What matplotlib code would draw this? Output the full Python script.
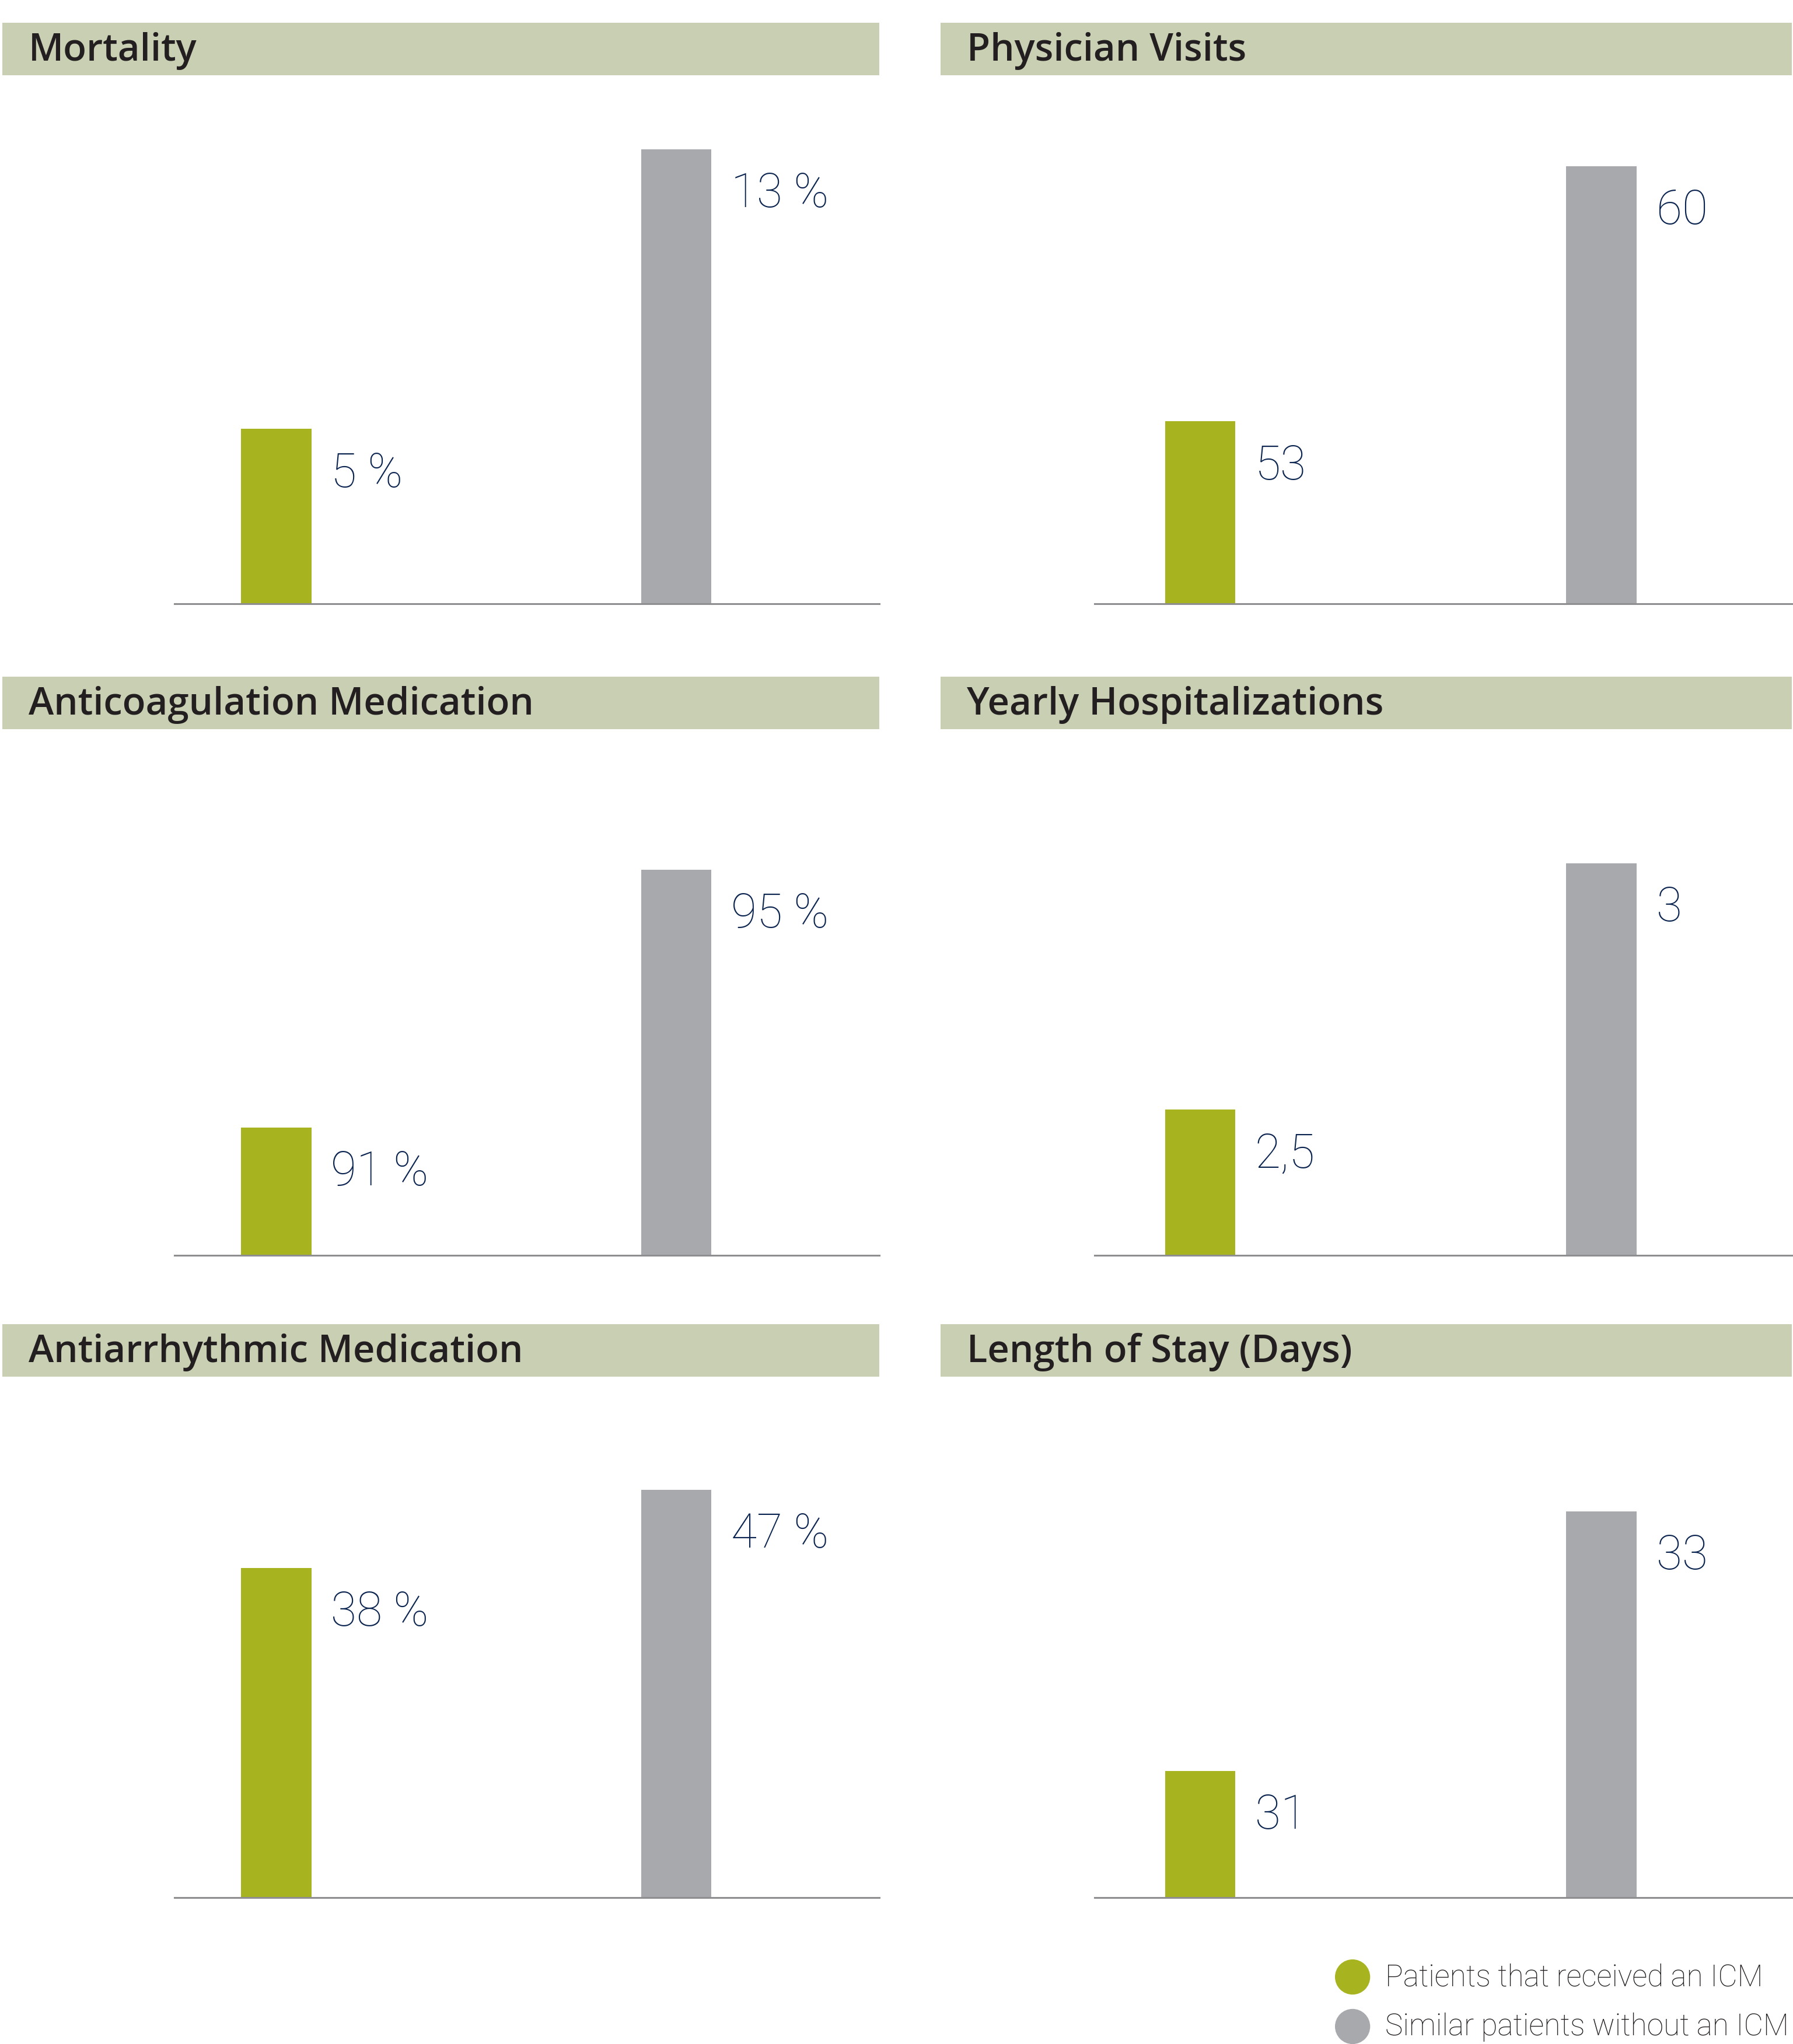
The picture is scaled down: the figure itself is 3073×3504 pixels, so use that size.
import matplotlib
matplotlib.use("Agg")
import matplotlib.pyplot as plt
from matplotlib.patches import Rectangle, Ellipse

# data
titles = ["Mortality", "Physician Visits",
          "Anticoagulation Medication", "Yearly Hospitalizations",
          "Antiarrhythmic Medication", "Length of Stay (Days)"]
icm_values = [5, 53, 91, 2.5, 38, 31]
control_values = [13, 60, 95, 3, 47, 33]
icm_labels = ["5 %", "53", "91 %", "2,5", "38 %", "31"]
control_labels = ["13 %", "60", "95 %", "3", "47 %", "33"]
legend_labels = ["Patients that received an ICM", "Similar patients without an ICM"]

# the original chart uses a cut axis in most panels
y_bottom = [0, 48, 89.02, 2.204, 0, 30.025]
y_top = [14.3, 61.71, 96.78, 3.22, 57.66, 33.88]

GREEN = "#a8b41f"
GREY = "#a8a9ad"
HEADER = "#c8cfb2"
NAVY = "#0c2550"
DARK = "#231f20"

W, H = 3073, 3505
S = W / 1376.0  # reference was measured on a 1376 px wide preview
fig = plt.figure(figsize=(W / 100, H / 100), dpi=100)

def fx(x):
    return x * S / W

def fy(y):
    return 1 - y * S / H

title_font = ["Open Sans", "DejaVu Sans"]
value_font = ["Roboto", "DejaVu Sans"]

# columns: header span, axes span, bar centres
cols = [dict(hx0=2, hx1=675, tx=22, ax0=134, ax1=675, c0=212, c1=519),
        dict(hx0=722, hx1=1375, tx=742, ax0=840, ax1=1375, c0=921, c1=1229)]
rows = [dict(h0=18, h1=58, top=80, base=464),
        dict(h0=520, h1=560, top=580, base=964),
        dict(h0=1017, h1=1057, top=1073, base=1457)]

for i in range(6):
    c = cols[i % 2]
    r = rows[i // 2]

    # header band
    fig.patches.append(Rectangle((fx(c["hx0"]), fy(r["h1"])),
                                 fx(c["hx1"]) - fx(c["hx0"]), fy(r["h0"]) - fy(r["h1"]),
                                 transform=fig.transFigure, facecolor=HEADER,
                                 edgecolor="none", zorder=0))
    fig.text(fx(c["tx"]), fy((r["h0"] + r["h1"]) / 2 + 1), titles[i],
             ha="left", va="center", fontsize=47, fontweight="semibold",
             color=DARK, family=title_font)

    ax = fig.add_axes([fx(c["ax0"]), fy(r["base"]),
                       fx(c["ax1"]) - fx(c["ax0"]), fy(r["top"]) - fy(r["base"])])
    span = c["ax1"] - c["ax0"]
    p0 = (c["c0"] - c["ax0"]) / span
    p1 = (c["c1"] - c["ax0"]) / span
    unit = p1 - p0
    ax.set_xlim(-p0 / unit, (1 - p0) / unit)
    ax.set_ylim(y_bottom[i], y_top[i])
    bw = 54 / span / unit

    vals = [icm_values[i], control_values[i]]
    labs = [icm_labels[i], control_labels[i]]
    ax.bar([0, 1], [v - y_bottom[i] for v in vals], bottom=y_bottom[i],
           width=bw, color=[GREEN, GREY], zorder=2)
    for k in range(2):
        ax.annotate(labs[k], xy=(k + bw / 2, vals[k]),
                    xytext=(15 * S, -34 * S), textcoords="offset pixels",
                    ha="left", va="center", fontsize=58, fontweight="light",
                    color=NAVY, family=value_font)

    for side in ["left", "right", "top"]:
        ax.spines[side].set_visible(False)
    ax.spines["bottom"].set_color("#8e8e90")
    ax.spines["bottom"].set_linewidth(2.2)
    ax.spines["bottom"].set_zorder(3)
    ax.set_xticks([])
    ax.set_yticks([])
    ax.patch.set_alpha(0)

# legend
for k, (col, lab) in enumerate(zip([GREEN, GREY], legend_labels)):
    yc = 1518 + k * 38
    fig.patches.append(Ellipse((fx(1038), fy(yc)), 27 * S / W, 27 * S / H,
                               transform=fig.transFigure, facecolor=col,
                               edgecolor="none"))
    fig.text(fx(1063), fy(yc), lab, ha="left", va="center", fontsize=37,
             fontweight="light", color=DARK, family=value_font)

fig.savefig("out.png", dpi=100)
